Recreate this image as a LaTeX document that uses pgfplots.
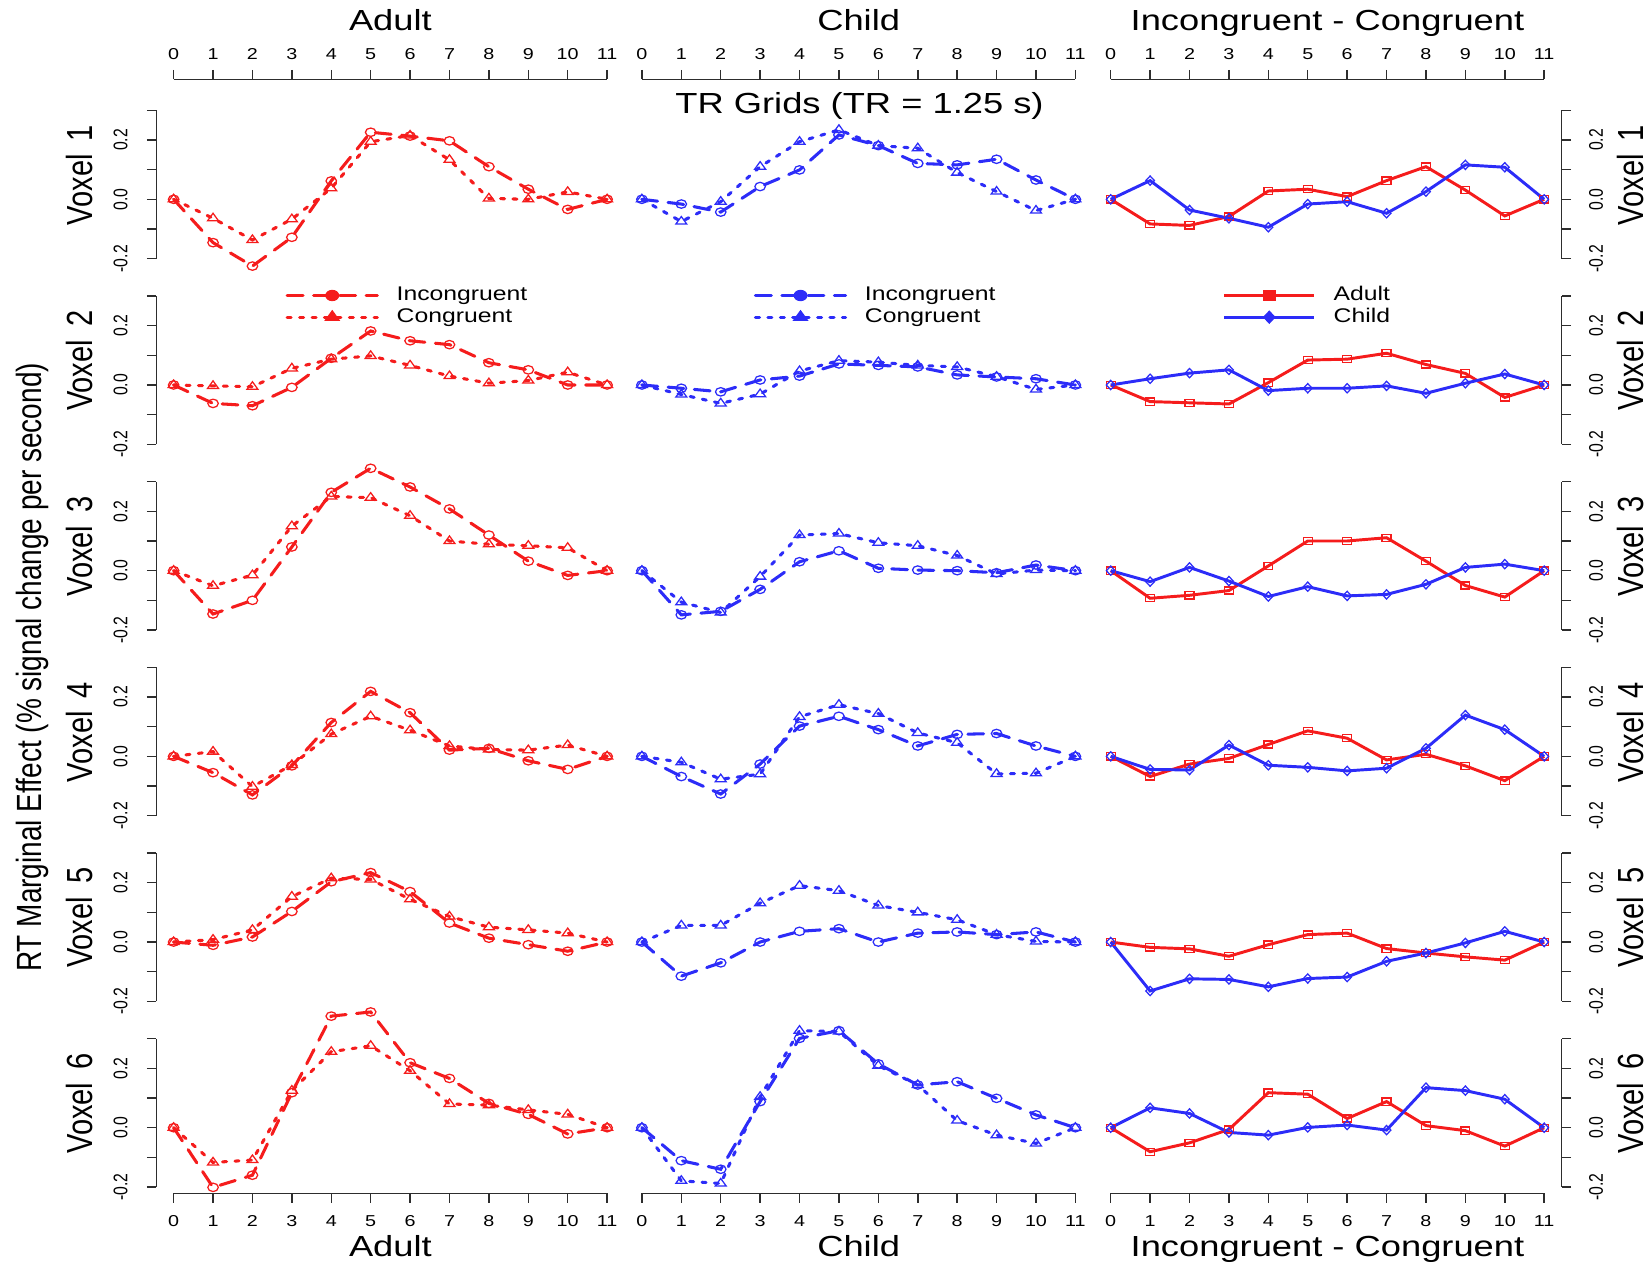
\documentclass[border=0pt]{standalone}
\usepackage{graphicx}
\usepackage{pgfplots}
\pgfplotsset{compat=1.18}
\usepackage{pgfplotstable}
\usepackage{fontspec}
\setmainfont{Liberation Sans}[FakeStretch=1.25]
\newfontfamily\rotfont{Liberation Sans}

\definecolor{myred}{RGB}{245,28,28}
\definecolor{myblue}{RGB}{44,44,248}
\definecolor{axgray}{RGB}{45,45,45}

\newcommand\hfs[1]{\fontsize{#1}{#1}\selectfont}
\newcommand\rt[2]{\scalebox{1}[1.25]{\rotfont\fontsize{#1}{#1}\selectfont #2}}
\newcommand\yl[1]{\rt{7.5}{#1}}

\pgfplotstableread{
x AI AC CI CC DA DC
0 0 0 0 0 0 0
1 -0.146 -0.064 -0.016 -0.075 -0.083 0.063
2 -0.225 -0.137 -0.043 -0.008 -0.088 -0.036
3 -0.128 -0.067 0.043 0.110 -0.058 -0.064
4 0.062 0.037 0.099 0.194 0.028 -0.094
5 0.226 0.194 0.217 0.234 0.034 -0.016
6 0.213 0.215 0.181 0.181 0.009 -0.008
7 0.197 0.133 0.121 0.172 0.063 -0.047
8 0.110 0.003 0.116 0.090 0.110 0.026
9 0.034 0.000 0.135 0.026 0.031 0.116
10 -0.034 0.025 0.065 -0.038 -0.056 0.108
11 0 0 0 0 0 0
}\voxI
\pgfplotstableread{
x AI AC CI CC DA DC
0 0 0 0 0 0 0
1 -0.062 -0.003 -0.011 -0.032 -0.056 0.021
2 -0.070 -0.006 -0.023 -0.062 -0.060 0.040
3 -0.008 0.056 0.017 -0.031 -0.064 0.051
4 0.090 0.087 0.030 0.047 0.008 -0.019
5 0.182 0.098 0.071 0.082 0.084 -0.011
6 0.149 0.066 0.066 0.077 0.087 -0.011
7 0.136 0.030 0.061 0.066 0.107 -0.003
8 0.075 0.006 0.034 0.061 0.069 -0.028
9 0.051 0.015 0.027 0.028 0.039 0.006
10 0.000 0.043 0.021 -0.015 -0.042 0.037
11 0 0 0 0 0 0
}\voxII
\pgfplotstableread{
x AI AC CI CC DA DC
0 0 0 0 0 0 0
1 -0.146 -0.051 -0.149 -0.106 -0.093 -0.037
2 -0.100 -0.015 -0.137 -0.141 -0.083 0.011
3 0.080 0.150 -0.063 -0.020 -0.067 -0.035
4 0.264 0.250 0.030 0.120 0.016 -0.087
5 0.345 0.246 0.067 0.125 0.100 -0.054
6 0.282 0.185 0.008 0.094 0.100 -0.085
7 0.208 0.100 0.002 0.084 0.111 -0.080
8 0.120 0.089 0.000 0.051 0.032 -0.046
9 0.032 0.084 -0.007 -0.011 -0.050 0.011
10 -0.016 0.077 0.019 0.002 -0.089 0.022
11 0 0 0 0 0 0
}\voxIII
\pgfplotstableread{
x AI AC CI CC DA DC
0 0 0 0 0 0 0
1 -0.055 0.016 -0.068 -0.020 -0.068 -0.044
2 -0.130 -0.102 -0.127 -0.077 -0.026 -0.046
3 -0.032 -0.029 -0.026 -0.060 -0.007 0.038
4 0.114 0.075 0.102 0.133 0.040 -0.030
5 0.219 0.135 0.135 0.174 0.086 -0.037
6 0.147 0.088 0.090 0.144 0.061 -0.049
7 0.021 0.035 0.035 0.079 -0.012 -0.040
8 0.027 0.023 0.074 0.046 0.007 0.027
9 -0.015 0.021 0.077 -0.059 -0.032 0.139
10 -0.044 0.038 0.035 -0.057 -0.082 0.090
11 0 0 0 0 0 0
}\voxIV
\pgfplotstableread{
x AI AC CI CC DA DC
0 0 0 0 0 0 0
1 -0.011 0.008 -0.115 0.056 -0.018 -0.165
2 0.017 0.041 -0.070 0.056 -0.023 -0.124
3 0.103 0.153 0.000 0.131 -0.048 -0.126
4 0.203 0.215 0.036 0.190 -0.009 -0.151
5 0.234 0.211 0.045 0.173 0.025 -0.123
6 0.170 0.144 0.000 0.123 0.030 -0.118
7 0.064 0.086 0.030 0.100 -0.022 -0.065
8 0.013 0.050 0.034 0.075 -0.037 -0.037
9 -0.009 0.041 0.025 0.025 -0.050 -0.003
10 -0.031 0.030 0.034 0.002 -0.061 0.036
11 0 0 0 0 0 0
}\voxV
\pgfplotstableread{
x AI AC CI CC DA DC
0 0 0 0 0 0 0
1 -0.201 -0.117 -0.111 -0.179 -0.081 0.067
2 -0.160 -0.109 -0.140 -0.188 -0.051 0.048
3 0.118 0.125 0.088 0.104 -0.006 -0.016
4 0.376 0.256 0.301 0.327 0.118 -0.025
5 0.390 0.276 0.327 0.324 0.113 0.001
6 0.219 0.192 0.215 0.209 0.031 0.009
7 0.166 0.080 0.144 0.144 0.088 -0.008
8 0.082 0.076 0.155 0.024 0.007 0.135
9 0.045 0.060 0.099 -0.025 -0.010 0.125
10 -0.021 0.045 0.043 -0.053 -0.062 0.096
11 0 0 0 0 0 0
}\voxVI

\pgfplotsset{
  every non boxed x axis/.style={},
  every non boxed y axis/.style={},
  base/.style={scale only axis, clip=false, enlargelimits=false,
    axis line style={axgray, line width=0.7pt, -},
    major tick length=4.5pt, tick style={axgray, line width=0.7pt},
    tick align=outside, minor tick num=0},
  panel/.style={base, width=222.45pt, height=70.5pt,
    xmin=-0.44, xmax=11.44, ymin=-0.2, ymax=0.3, anchor=south west,
    axis x line=none, xtick=\empty},
  lpanel/.style={panel, axis y line=left,
    ytick={-0.2,-0.1,0,0.1,0.2,0.3},
    yticklabels={\yl{-0.2},,\yl{0.0},,\yl{0.2},},
    yticklabel style={xshift=-8.9pt, rotate=90, anchor=south, inner sep=0pt}},
  rpanel/.style={panel, axis y line=right,
    ytick={-0.2,-0.1,0,0.1,0.2,0.3},
    yticklabels={\yl{-0.2},,\yl{0.0},,\yl{0.2},},
    yticklabel style={xshift=8.35pt, rotate=90, anchor=north, inner sep=0pt}},
  mpanel/.style={panel, axis y line=none, ytick=\empty},
  xtop/.style={base, width=205.975pt, height=10pt, xmin=0, xmax=11, ymin=0, ymax=1,
    axis x line=top, axis y line=none, ytick=\empty, xtick={0,...,11},
    xticklabels={0,1,2,3,4,5,6,7,8,9,10,11},
    xticklabel style={font=\hfs{7.5}, inner sep=0pt, anchor=base, yshift=5pt},
    anchor=north west},
  xbot/.style={base, width=205.975pt, height=10pt, xmin=0, xmax=11, ymin=0, ymax=1,
    axis x line=bottom, axis y line=none, ytick=\empty, xtick={0,...,11},
    xticklabels={0,1,2,3,4,5,6,7,8,9,10,11},
    xticklabel style={font=\hfs{7.5}, inner sep=0pt, anchor=base, yshift=-11.35pt},
    anchor=south west},
  inc/.style={line width=1.45pt, dash pattern=on 7.5pt off 5pt, line cap=round,
    mark=o, mark size=2pt, mark options={solid, line width=0.6pt, xscale=1.25}},
  con/.style={line width=1.45pt, dash pattern=on 1.9pt off 4pt, line cap=round,
    mark=triangle, mark size=2.4pt, mark options={solid, line width=0.6pt, xscale=1.25}},
  dad/.style={myred, line width=1.4pt, mark=square, mark size=1.7pt,
    mark options={solid, line width=0.6pt, xscale=1.25}},
  dch/.style={myblue, line width=1.4pt, mark=diamond, mark size=2.2pt,
    mark options={solid, line width=0.6pt, xscale=1.25}},
  legpanel/.style={panel, hide axis,
    legend style={anchor=west, draw=none, fill=none, inner sep=0pt, outer sep=0pt,
      font=\hfs{9.4}, row sep=1.9pt,
      nodes={inner sep=0pt, text height=6.8pt, text depth=1.6pt},
      /tikz/every odd column/.append style={column sep=8.5pt}},
    legend cell align=left,
    legend image code/.code={\draw[mark repeat=2,mark phase=2,##1] plot coordinates {(0pt,0pt) (21.4pt,0pt) (42.8pt,0pt)};}},
}

\newcommand\voxrow[2]{%
  \begin{axis}[lpanel, at={(74.26pt,#2)}]
    \addplot[myred, inc] table[x=x,y=AI]{#1};
    \addplot[myred, con] table[x=x,y=AC]{#1};
  \end{axis}
  \begin{axis}[mpanel, at={(296.76pt,#2)}]
    \addplot[myblue, inc] table[x=x,y=CI]{#1};
    \addplot[myblue, con] table[x=x,y=CC]{#1};
  \end{axis}
  \begin{axis}[rpanel, at={(519.51pt,#2)}]
    \addplot[dad] table[x=x,y=DA]{#1};
    \addplot[dch] table[x=x,y=DC]{#1};
  \end{axis}%
}

\begin{document}
\begin{tikzpicture}
\path[use as bounding box] (0pt,0pt) rectangle (784pt,-600pt);

\voxrow{\voxI}{-122.9pt}
\voxrow{\voxII}{-211.125pt}
\voxrow{\voxIII}{-299.35pt}
\voxrow{\voxIV}{-387.575pt}
\voxrow{\voxV}{-475.8pt}
\voxrow{\voxVI}{-564.025pt}

% legends
\begin{axis}[legpanel, at={(74.26pt,-211.125pt)}, legend style={at={(0.2764,0.930)}}]
  \addlegendimage{myred, inc, mark=*, mark size=2.4pt, mark options={solid, fill=myred, line width=0.6pt, xscale=1.25}}
  \addlegendentry{Incongruent}
  \addlegendimage{myred, con, mark=triangle*, mark size=3pt, mark options={solid, fill=myred, line width=0.6pt, xscale=1.25}}
  \addlegendentry{Congruent}
\end{axis}
\begin{axis}[legpanel, at={(296.76pt,-211.125pt)}, legend style={at={(0.2764,0.930)}}]
  \addlegendimage{myblue, inc, mark=*, mark size=2.4pt, mark options={solid, fill=myblue, line width=0.6pt, xscale=1.25}}
  \addlegendentry{Incongruent}
  \addlegendimage{myblue, con, mark=triangle*, mark size=3pt, mark options={solid, fill=myblue, line width=0.6pt, xscale=1.25}}
  \addlegendentry{Congruent}
\end{axis}
\begin{axis}[legpanel, at={(519.51pt,-211.125pt)}, legend style={at={(0.2764,0.930)}}]
  \addlegendimage{myred, line width=1.4pt, mark=square*, mark size=2.2pt, mark options={solid, fill=myred, line width=0.6pt, xscale=1.25}}
  \addlegendentry{Adult}
  \addlegendimage{myblue, line width=1.4pt, mark=diamond*, mark size=2.8pt, mark options={solid, fill=myblue, line width=0.6pt, xscale=1.25}}
  \addlegendentry{Child}
\end{axis}

% top and bottom scales
\begin{axis}[xtop, at={(82.5pt,-37.7pt)}]\end{axis}
\begin{axis}[xtop, at={(305pt,-37.7pt)}]\end{axis}
\begin{axis}[xtop, at={(527.75pt,-37.7pt)}]\end{axis}
\begin{axis}[xbot, at={(82.5pt,-567pt)}]\end{axis}
\begin{axis}[xbot, at={(305pt,-567pt)}]\end{axis}
\begin{axis}[xbot, at={(527.75pt,-567pt)}]\end{axis}

\begin{scope}[x=0.5pt, y=-0.5pt]
  \node[anchor=base, font=\hfs{13.8}, inner sep=0pt] at (371,29.2) {Adult};
  \node[anchor=base, font=\hfs{13.8}, inner sep=0pt] at (816,29.2) {Child};
  \node[anchor=base, font=\hfs{13.8}, inner sep=0pt] at (1261.5,29.2) {Incongruent - Congruent};
  \node[anchor=base, font=\hfs{13.8}, inner sep=0pt] at (816.8,107.7) {TR Grids (TR = 1.25 s)};
  \node[anchor=base, font=\hfs{13.8}, inner sep=0pt] at (371,1194.2) {Adult};
  \node[anchor=base, font=\hfs{13.8}, inner sep=0pt] at (816,1194.2) {Child};
  \node[anchor=base, font=\hfs{13.8}, inner sep=0pt] at (1261.5,1194.2) {Incongruent - Congruent};
  \foreach \i/\y in {1/166.4, 2/342.85, 3/519.3, 4/695.75, 5/872.2, 6/1048.65} {
    \node[rotate=90, anchor=base, inner sep=0pt] at (87.5,\y) {\rt{13.8}{Voxel\hspace{0.45em}\i}};
    \node[rotate=90, anchor=base, inner sep=0pt] at (1561.9,\y) {\rt{13.8}{Voxel\hspace{0.45em}\i}};
  }
  \node[rotate=90, anchor=base, inner sep=0pt] at (39.4,634.2) {\rt{13.3}{RT Marginal Effect (\% signal change per second)}};
\end{scope}
\end{tikzpicture}
\end{document}
